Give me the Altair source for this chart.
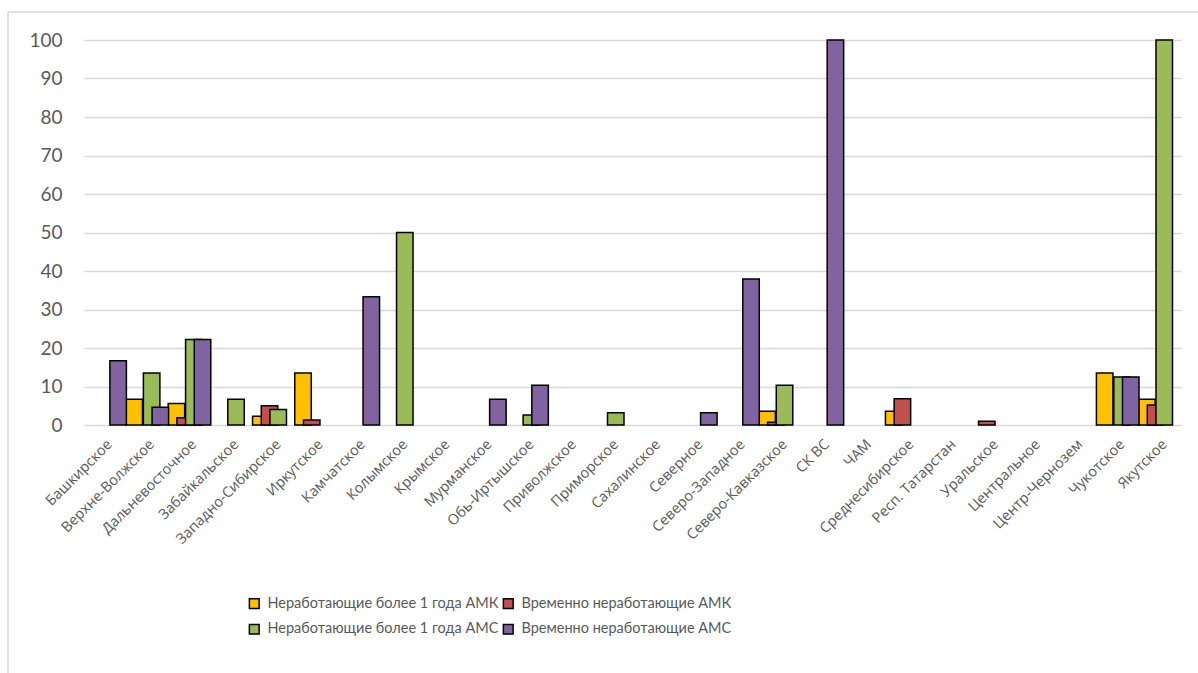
import altair as alt
import pandas as pd

categories = [
    "Башкирское", "Верхне-Волжское", "Дальневосточное", "Забайкальское",
    "Западно-Сибирское", "Иркутское", "Камчатское", "Колымское", "Крымское",
    "Мурманское", "Обь-Иртышское", "Приволжское", "Приморское", "Сахалинское",
    "Северное", "Северо-Западное", "Северо-Кавказское", "СК ВС", "ЧАМ",
    "Среднесибирское", "Респ. Татарстан", "Уральское", "Центральное",
    "Центр-Чернозем", "Чукотское", "Якутское",
]
series_names = [
    "Неработающие более 1 года АМК",
    "Временно неработающие АМК",
    "Неработающие более 1 года АМС",
    "Временно неработающие АМС",
]
colors = ["#FFC000", "#C0504D", "#9BBB59", "#8064A2"]

amk_long = [0, 6.7, 5.6, 0, 2.3, 13.5, 0, 0, 0, 0, 0, 0, 0, 0, 0, 0, 3.6, 0, 0, 3.6, 0, 0, 0, 0, 13.5, 6.7]
amk_temp = [0, 0, 1.9, 0, 5.0, 1.3, 0, 0, 0, 0, 0, 0, 0, 0, 0, 0, 0.7, 0, 0, 6.8, 0, 1.0, 0, 0, 0, 5.2]
ams_long = [0, 13.5, 22.2, 6.7, 4.0, 0, 0, 50, 0, 0, 2.6, 0, 3.2, 0, 0, 0, 10.3, 0, 0, 0, 0, 0, 0, 0, 12.5, 100]
ams_temp = [16.7, 4.6, 22.2, 0, 0, 0, 33.3, 0, 0, 6.7, 10.3, 0, 0, 0, 3.2, 37.9, 0, 100, 0, 0, 0, 0, 0, 0, 12.5, 0]

rows = []
for s, vals in zip(series_names, [amk_long, amk_temp, ams_long, ams_temp]):
    for c, v in zip(categories, vals):
        rows.append({"region": c, "series": s, "value": v})
df = pd.DataFrame(rows)

W, H = 1097, 385
TXT = "#595959"

frame = alt.Chart(alt.Data(values=[{"a": 1}])).mark_rect(
    filled=False, stroke="#D9D9D9", strokeWidth=1.5
).encode(
    x=alt.value(-76), x2=alt.value(W + 40), y=alt.value(-28), y2=alt.value(H + 300)
)

bars = alt.Chart(df).transform_filter("datum.value > 0").mark_bar(
    size=16.5, stroke="black", strokeWidth=1.5
).encode(
    x=alt.X(
        "region:N",
        sort=categories,
        scale=alt.Scale(domain=categories, paddingInner=0, paddingOuter=0),
        axis=alt.Axis(
            title=None, labelAngle=-45, labelFont="Open Sans", labelFontSize=14.5,
            labelColor=TXT, ticks=False, domain=False, labelPadding=12,
            labelOverlap=False, grid=False,
        ),
    ),
    xOffset=alt.XOffset(
        "series:N",
        sort=series_names,
        scale=alt.Scale(domain=series_names, paddingInner=0, paddingOuter=0.425),
    ),
    y=alt.Y(
        "value:Q",
        scale=alt.Scale(domain=[0, 100], nice=False),
        axis=alt.Axis(
            title=None, values=list(range(0, 101, 10)), labelFont="Lato",
            labelFontSize=19, labelColor=TXT, ticks=False, domain=False,
            labelPadding=22, gridColor="#D9D9D9", gridWidth=1.3,
        ),
    ),
    color=alt.Color(
        "series:N",
        sort=series_names,
        scale=alt.Scale(domain=series_names, range=colors),
        legend=alt.Legend(
            title=None, orient="none", legendX=163, legendY=556, columns=2,
            direction="horizontal",
            symbolType="square", symbolSize=95, symbolStrokeColor="black",
            symbolStrokeWidth=1.5, labelFont="Lato", labelFontSize=14.5,
            labelColor=TXT, labelOffset=6, columnPadding=1, rowPadding=9,
            padding=0, labelLimit=400,
        ),
    ),
)

chart = alt.layer(frame, bars).properties(
    width=W, height=H,
    padding={"left": 84, "top": 40, "right": 17, "bottom": 248},
    autosize=alt.AutoSizeParams(type="none"),
    background="white",
).configure_view(stroke=None)

chart.save("out.html", embed_options={"renderer": "svg", "actions": False})
